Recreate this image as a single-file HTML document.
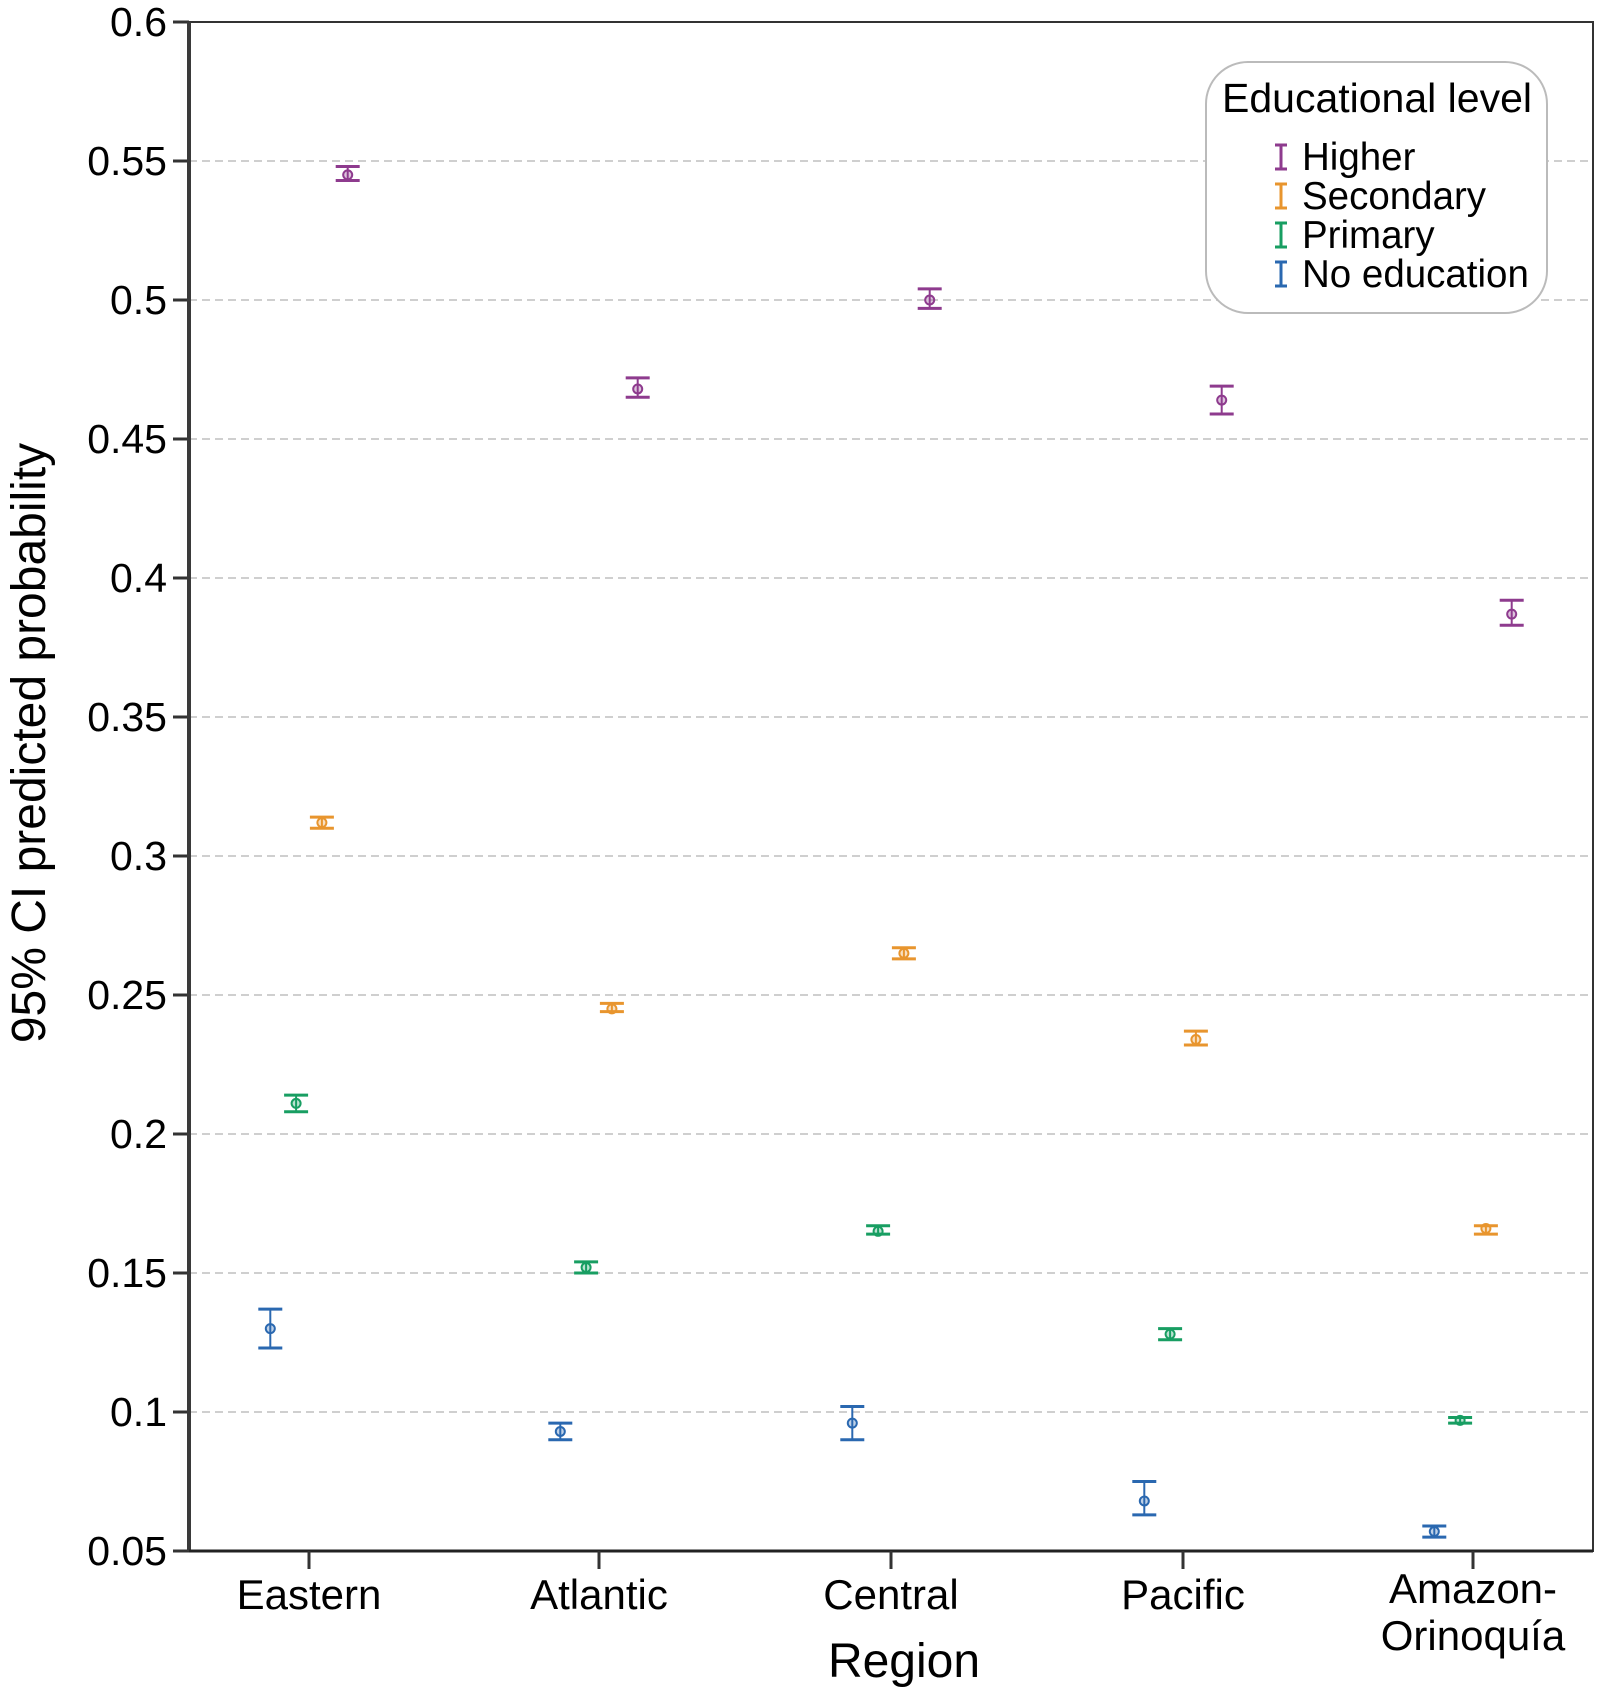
<!DOCTYPE html>
<html><head><meta charset="utf-8"><style>
html,body{margin:0;padding:0;background:#fff}
svg{display:block;font-family:"Liberation Sans",sans-serif}
</style></head><body>
<svg id="chart" width="1597" height="1687"></svg>
<script>
const categories=["Eastern","Atlantic","Central","Pacific","Amazon-Orinoquía"];
const series=["Higher","Secondary","Primary","No education"];
const colors=["#8e3b8e","#e8952e","#189e62","#2a68b0"];
const higherMid=[0.545,0.468,0.500,0.464,0.387];
const higherLo=[0.543,0.465,0.497,0.459,0.383];
const higherHi=[0.548,0.472,0.504,0.469,0.392];
const secMid=[0.312,0.245,0.265,0.234,0.166];
const secLo=[0.310,0.244,0.263,0.232,0.164];
const secHi=[0.314,0.247,0.267,0.237,0.167];
const priMid=[0.211,0.152,0.165,0.128,0.097];
const priLo=[0.208,0.150,0.164,0.126,0.096];
const priHi=[0.214,0.154,0.167,0.130,0.098];
const noneMid=[0.130,0.093,0.096,0.068,0.057];
const noneLo=[0.123,0.090,0.090,0.063,0.055];
const noneHi=[0.137,0.096,0.102,0.075,0.059];
const yTicks=[0.05,0.1,0.15,0.2,0.25,0.3,0.35,0.4,0.45,0.5,0.55,0.6];
const yTickLabels=["0.05","0.1","0.15","0.2","0.25","0.3","0.35","0.4","0.45","0.5","0.55","0.6"];

const svg=document.getElementById('chart');
const NS="http://www.w3.org/2000/svg";
const L=189,R=1593,T=22,B=1551;
const yMin=0.05,yMax=0.6;
const y=v=>B-(v-yMin)/(yMax-yMin)*(B-T);
const xC=[309,599,891,1183,1473];
const x=i=>xC[i];
const offs=[38.7,12.9,-12.9,-38.7];
function el(t,a,p){const e=document.createElementNS(NS,t);for(const k in a)e.setAttribute(k,a[k]);(p||svg).appendChild(e);return e;}

yTicks.forEach((v,i)=>{
  if(i>0&&i<yTicks.length-1){
    const g=el('line',{x1:L,x2:R,y1:y(v),y2:y(v),stroke:'#cfcfcf','stroke-width':2,'stroke-dasharray':'8,5'});
    
    
  }
  const tk=el('line',{x1:L-16,x2:L,y1:y(v),y2:y(v),stroke:'#333','stroke-width':3});
  
  
  const tl=el('text',{x:L-22,y:y(v)+14,'text-anchor':'end','font-size':41,fill:'#000'});
  tl.textContent=yTickLabels[i];
  
  
});
const fr=el('rect',{x:L,y:T,width:R-L,height:B-T,fill:'none',stroke:'#333','stroke-width':2});


const la=el('line',{x1:L,x2:L,y1:T,y2:B,stroke:'#3a3a3a','stroke-width':4});


const ba=el('line',{x1:L,x2:R,y1:B,y2:B,stroke:'#222','stroke-width':3});



categories.forEach((c,i)=>{
  const tk=el('line',{x1:x(i),x2:x(i),y1:B,y2:B+18,stroke:'#333','stroke-width':3});
  
  
  const t=el('text',{x:x(i),y:1609,'text-anchor':'middle','font-size':42,fill:'#000'});
  
  
  if(c.indexOf('-')>0){
    const parts=c.split('-');
    const a=el('tspan',{x:x(i),y:1603},t);a.textContent=parts[0]+'-';
    const b=el('tspan',{x:x(i),y:1650},t);b.textContent=parts[1];
  } else t.textContent=c;
});

const mids=[higherMid,secMid,priMid,noneMid],los=[higherLo,secLo,priLo,noneLo],his=[higherHi,secHi,priHi,noneHi];
series.forEach((s,si)=>{
  const g=el('g',{});
  
  
  categories.forEach((c,i)=>{
    const cx=x(i)+offs[si],col=colors[si];
    el('line',{x1:cx,x2:cx,y1:y(his[si][i]),y2:y(los[si][i]),stroke:col,'stroke-width':2},g);
    el('line',{x1:cx-12,x2:cx+12,y1:y(his[si][i]),y2:y(his[si][i]),stroke:col,'stroke-width':3},g);
    el('line',{x1:cx-12,x2:cx+12,y1:y(los[si][i]),y2:y(los[si][i]),stroke:col,'stroke-width':3},g);
    const p=el('circle',{cx:cx,cy:y(mids[si][i]),r:4.5,fill:col,'fill-opacity':0.3,stroke:col,'stroke-width':2},g);
    
    
  });
});

const yt=el('text',{x:0,y:0,'text-anchor':'middle','font-size':48,transform:'translate(45,743) rotate(-90)'});
yt.textContent='95% CI predicted probability';


const xt=el('text',{x:904,y:1677,'text-anchor':'middle','font-size':48});
xt.textContent='Region';



const lg=el('g',{});


el('rect',{x:1206,y:62,width:341,height:251,rx:42,fill:'#fff',stroke:'#bbb','stroke-width':2},lg);
const lt=el('text',{x:1377,y:112,'text-anchor':'middle','font-size':41},lg);
lt.textContent='Educational level';
series.forEach((s,si)=>{
  const cy=157+si*39,col=colors[si];
  const ic=el('g',{},lg);
  
  
  el('line',{x1:1281,x2:1281,y1:cy-12,y2:cy+12,stroke:col,'stroke-width':3},ic);
  el('line',{x1:1275,x2:1287,y1:cy-12,y2:cy-12,stroke:col,'stroke-width':3},ic);
  el('line',{x1:1275,x2:1287,y1:cy+12,y2:cy+12,stroke:col,'stroke-width':3},ic);
  const t=el('text',{x:1302,y:cy+13,'font-size':38.5},lg);
  t.textContent=s;
  
  
});
</script>
</body></html>
